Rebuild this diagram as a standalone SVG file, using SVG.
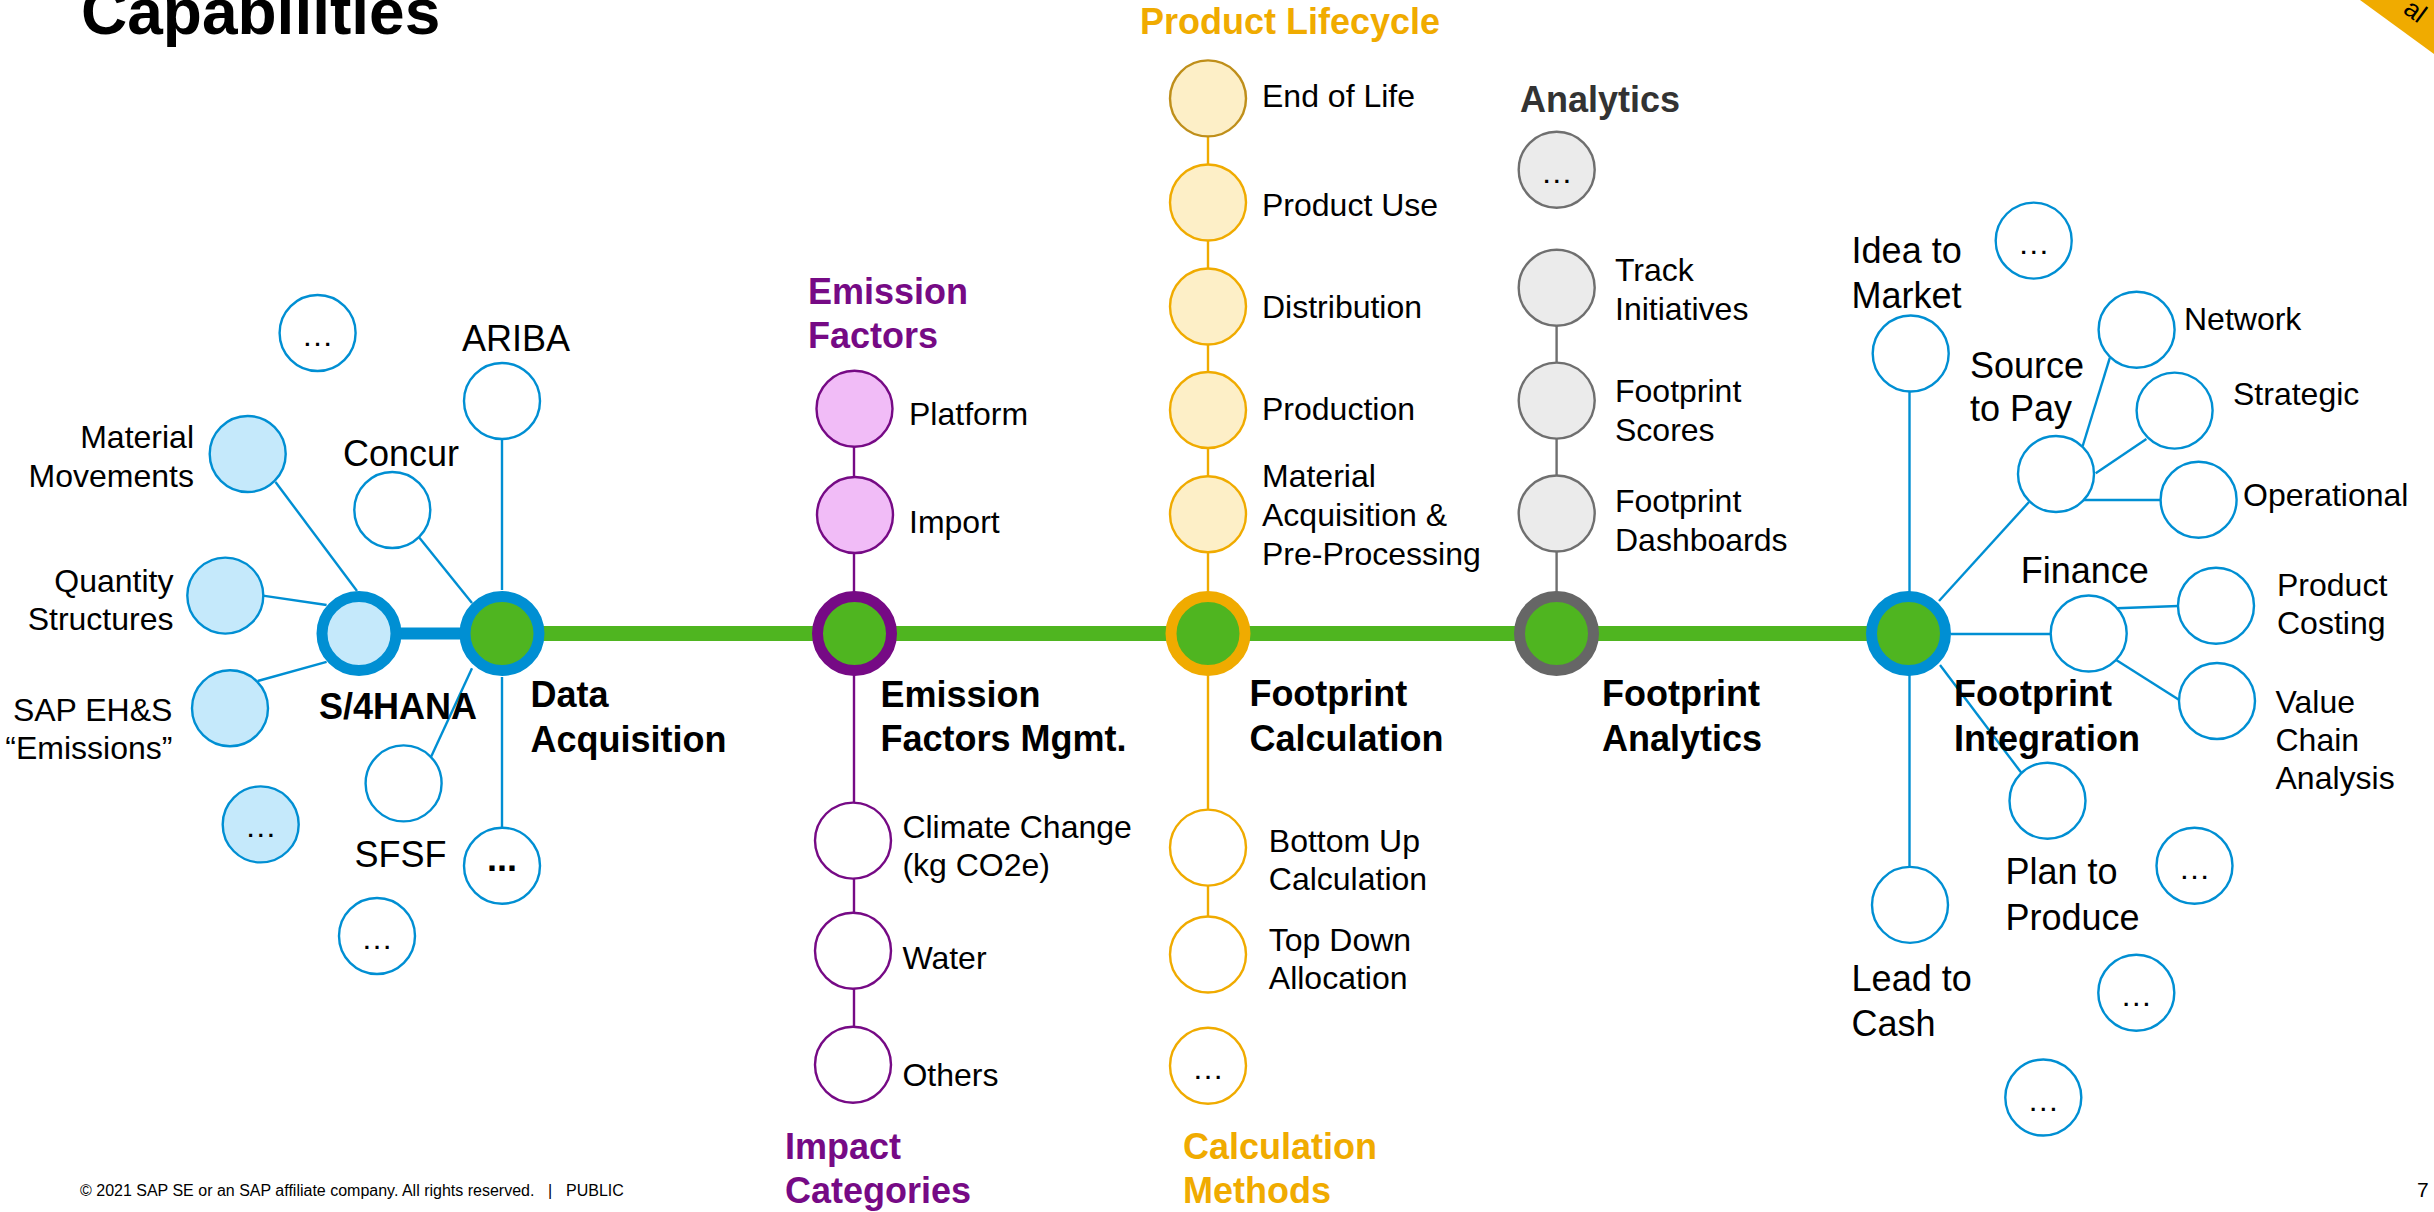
<svg xmlns="http://www.w3.org/2000/svg" width="2434" height="1212" viewBox="0 0 2434 1212">
<style>
text{font-family:"Liberation Sans",Arial,sans-serif;fill:#000}
.t36{font-size:36px}
.t32{font-size:32px}
.b36{font-size:36px;font-weight:bold}
.dots{font-size:32px;text-anchor:middle}
.r{text-anchor:end}
.pur{fill:#760A85}
.gold{fill:#F0AB00}
.dg{fill:#333333}
.cb{fill:#fff;stroke:#008FD3;stroke-width:2.4}
.cbl{fill:#C5E9FB;stroke:#008FD3;stroke-width:2.4}
.cp{fill:#fff;stroke:#760A85;stroke-width:2.4}
.cpl{fill:#F1BCF7;stroke:#760A85;stroke-width:2.4}
.cg{fill:#fff;stroke:#F0AB00;stroke-width:2.4}
.cgl{fill:#FDEFC7;stroke:#F0AB00;stroke-width:2.4}
.cgr{fill:#EBEBEB;stroke:#6F6F6F;stroke-width:2.4}
.ring{stroke-width:11}
.lb{stroke:#008FD3;stroke-width:2.4;fill:none}
.lp{stroke:#760A85;stroke-width:2.4;fill:none}
.lg{stroke:#F0AB00;stroke-width:2.4;fill:none}
.lgr{stroke:#6F6F6F;stroke-width:2.4;fill:none}
</style>
<rect width="2434" height="1212" fill="#fff"/>

<g id="title"><text x="81" y="34" style="font-size:64px;font-weight:bold">Capabilities</text></g>

<g id="banner">
<polygon points="2360,0 2434,0 2434,54" fill="#F0AB00"/>
<text transform="translate(2402,12) rotate(36)" style="font-size:26px">al</text>
</g>

<g id="connectors">
<line x1="502" y1="633.5" x2="1908.5" y2="633.5" stroke="#4FB520" stroke-width="15"/>
<line x1="359" y1="633.5" x2="502" y2="633.5" stroke="#008FD3" stroke-width="12"/>
<line class="lb" x1="275.5" y1="482" x2="357" y2="591"/>
<line class="lb" x1="262.8" y1="595.6" x2="326.6" y2="605"/>
<line class="lb" x1="257.7" y1="681" x2="326.6" y2="661.8"/>
<line class="lb" x1="502" y1="439" x2="502" y2="590"/>
<line class="lb" x1="419.4" y1="537.7" x2="472" y2="603"/>
<line class="lb" x1="431.1" y1="756.8" x2="472" y2="668.2"/>
<line class="lb" x1="502" y1="677" x2="502" y2="828"/>
<polyline class="lp" points="854,408.7 854,1064.7"/>
<polyline class="lg" points="1208,98.4 1208,954.5"/>
<polyline class="lgr" points="1556.6,287.7 1556.6,633.5"/>
<line class="lb" x1="1909.5" y1="353.5" x2="1909.5" y2="905"/>
<line class="lb" x1="2029" y1="502" x2="1939" y2="601"/>
<line class="lb" x1="2082.7" y1="446" x2="2109.8" y2="357.8"/>
<line class="lb" x1="2095.7" y1="473.3" x2="2146.4" y2="438.9"/>
<line class="lb" x1="2082.7" y1="500" x2="2160.5" y2="500"/>
<line class="lb" x1="1951" y1="634" x2="2050.7" y2="634"/>
<line class="lb" x1="2116.7" y1="608.3" x2="2178.3" y2="606"/>
<line class="lb" x1="2115" y1="659.3" x2="2179.3" y2="700"/>
<line class="lb" x1="1940" y1="665" x2="2021.7" y2="773.3"/>
</g>

<!-- Left cluster -->
<g id="n-dots-top"><circle class="cb" cx="317.6" cy="333" r="38"/><text class="dots" x="317.6" y="346">…</text></g>
<g id="n-ariba"><circle class="cb" cx="502" cy="401" r="38"/><text class="t36" x="462" y="351">ARIBA</text></g>
<g id="n-material-movements"><circle class="cbl" cx="247.7" cy="454" r="38"/><text class="t32 r" x="194" y="448">Material</text><text class="t32 r" x="194" y="487">Movements</text></g>
<g id="n-concur"><circle class="cb" cx="392.3" cy="510" r="38"/><text class="t36" x="343" y="466">Concur</text></g>
<g id="n-quantity-structures"><circle class="cbl" cx="225.3" cy="595.6" r="38"/><text class="t32 r" x="173.5" y="592">Quantity</text><text class="t32 r" x="173.5" y="630">Structures</text></g>
<g id="n-sap-ehs"><circle class="cbl" cx="230" cy="708.3" r="38"/><text class="t32 r" x="172.4" y="721">SAP EH&amp;S</text><text class="t32 r" x="172.4" y="759">“Emissions”</text></g>
<g id="n-dots-lightblue"><circle class="cbl" cx="260.7" cy="824.4" r="38"/><text class="dots" x="260.7" y="837">…</text></g>
<g id="n-sfsf"><circle class="cb" cx="403.6" cy="783.4" r="38"/><text class="t36" x="354.6" y="867">SFSF</text></g>
<g id="n-dots-bold"><circle class="cb" cx="502" cy="865.7" r="38"/><text x="502" y="871" style="font-size:36px;font-weight:bold;text-anchor:middle">...</text></g>
<g id="n-dots-below-sfsf"><circle class="cb" cx="377" cy="936" r="38"/><text class="dots" x="377" y="949">…</text></g>
<g id="n-s4hana"><circle cx="359" cy="633.5" r="37" fill="#C5E9FB" stroke="#008FD3" class="ring"/><text class="b36" x="319" y="719">S/4HANA</text></g>
<g id="n-data-acquisition"><circle cx="502" cy="633.5" r="37" fill="#4FB520" stroke="#008FD3" class="ring"/><text class="b36" x="530.6" y="707">Data</text><text class="b36" x="530.6" y="752">Acquisition</text></g>

<!-- Emission factors -->
<g id="n-emission-factors-head"><text class="b36 pur" x="808" y="304">Emission</text><text class="b36 pur" x="808" y="348">Factors</text></g>
<g id="n-platform"><circle class="cpl" cx="854.5" cy="408.7" r="38"/><text class="t32" x="909" y="425">Platform</text></g>
<g id="n-import"><circle class="cpl" cx="855" cy="515" r="38"/><text class="t32" x="909" y="533">Import</text></g>
<g id="n-emission-factors-mgmt"><circle cx="854.5" cy="633.5" r="37" fill="#4FB520" stroke="#760A85" class="ring"/><text class="b36" x="880.5" y="707">Emission</text><text class="b36" x="880.5" y="751">Factors Mgmt.</text></g>
<g id="n-climate-change"><circle class="cp" cx="853" cy="840.6" r="38"/><text class="t32" x="902.4" y="838">Climate Change</text><text class="t32" x="902.4" y="876">(kg CO2e)</text></g>
<g id="n-water"><circle class="cp" cx="853" cy="950.8" r="38"/><text class="t32" x="902.4" y="969">Water</text></g>
<g id="n-others"><circle class="cp" cx="853" cy="1064.7" r="38"/><text class="t32" x="902.4" y="1086">Others</text></g>
<g id="n-impact-categories"><text class="b36 pur" x="785" y="1159">Impact</text><text class="b36 pur" x="785" y="1203">Categories</text></g>

<!-- Footprint calculation -->
<g id="n-product-lifecycle"><text class="b36 gold" x="1140" y="34">Product Lifecycle</text></g>
<g id="n-end-of-life"><circle cx="1208" cy="98.4" r="38" fill="#FDEFC7" stroke="#BF8F1A" stroke-width="2.4"/><text class="t32" x="1262" y="107">End of Life</text></g>
<g id="n-product-use"><circle class="cgl" cx="1208" cy="202.5" r="38"/><text class="t32" x="1262" y="215.5">Product Use</text></g>
<g id="n-distribution"><circle class="cgl" cx="1208" cy="306.5" r="38"/><text class="t32" x="1262" y="318.4">Distribution</text></g>
<g id="n-production"><circle class="cgl" cx="1208" cy="410" r="38"/><text class="t32" x="1262" y="420.2">Production</text></g>
<g id="n-material-acquisition"><circle class="cgl" cx="1208" cy="514.2" r="38"/><text class="t32" x="1262" y="487">Material</text><text class="t32" x="1262" y="526">Acquisition &amp;</text><text class="t32" x="1262" y="565">Pre-Processing</text></g>
<g id="n-footprint-calculation"><circle cx="1208" cy="633.5" r="37" fill="#4FB520" stroke="#F0AB00" class="ring"/><text class="b36" x="1249.4" y="706">Footprint</text><text class="b36" x="1249.4" y="751">Calculation</text></g>
<g id="n-bottom-up"><circle class="cg" cx="1208" cy="847.6" r="38"/><text class="t32" x="1268.8" y="852">Bottom Up</text><text class="t32" x="1268.8" y="890.4">Calculation</text></g>
<g id="n-top-down"><circle class="cg" cx="1208" cy="954.5" r="38"/><text class="t32" x="1268.8" y="951">Top Down</text><text class="t32" x="1268.8" y="989">Allocation</text></g>
<g id="n-calc-dots"><circle class="cg" cx="1208" cy="1065.7" r="38"/><text class="dots" x="1208" y="1079">…</text></g>
<g id="n-calculation-methods"><text class="b36 gold" x="1183" y="1159">Calculation</text><text class="b36 gold" x="1183" y="1203">Methods</text></g>

<!-- Analytics -->
<g id="n-analytics-head"><text class="b36 dg" x="1520" y="111.7">Analytics</text></g>
<g id="n-analytics-dots"><circle class="cgr" cx="1556.7" cy="169.7" r="38"/><text class="dots" x="1556.7" y="183">…</text></g>
<g id="n-track-initiatives"><circle class="cgr" cx="1556.7" cy="287.7" r="38"/><text class="t32" x="1615" y="281">Track</text><text class="t32" x="1615" y="320">Initiatives</text></g>
<g id="n-footprint-scores"><circle class="cgr" cx="1556.7" cy="400.6" r="38"/><text class="t32" x="1615" y="402">Footprint</text><text class="t32" x="1615" y="441">Scores</text></g>
<g id="n-footprint-dashboards"><circle class="cgr" cx="1556.7" cy="513.5" r="38"/><text class="t32" x="1615" y="511.6">Footprint</text><text class="t32" x="1615" y="550.6">Dashboards</text></g>
<g id="n-footprint-analytics"><circle cx="1556.5" cy="633.5" r="37" fill="#4FB520" stroke="#666666" class="ring"/><text class="b36" x="1602" y="706">Footprint</text><text class="b36" x="1602" y="751">Analytics</text></g>

<!-- Footprint integration -->
<g id="n-idea-to-market"><circle class="cb" cx="1910.7" cy="353.5" r="38"/><text class="t36" x="1851.6" y="263">Idea to</text><text class="t36" x="1851.6" y="307.6">Market</text></g>
<g id="n-idea-dots"><circle class="cb" cx="2033.7" cy="240.6" r="38"/><text class="dots" x="2033.7" y="254">…</text></g>
<g id="n-source-to-pay"><circle class="cb" cx="2056" cy="474" r="38"/><text class="t36" x="1970" y="377.6">Source</text><text class="t36" x="1970" y="421">to Pay</text></g>
<g id="n-network"><circle class="cb" cx="2136.6" cy="329.8" r="38"/><text class="t32" x="2184" y="330">Network</text></g>
<g id="n-strategic"><circle class="cb" cx="2174.6" cy="410.6" r="38"/><text class="t32" x="2233" y="405">Strategic</text></g>
<g id="n-operational"><circle class="cb" cx="2198.6" cy="499.8" r="38"/><text class="t32" x="2243" y="506">Operational</text></g>
<g id="n-finance"><circle class="cb" cx="2088.7" cy="633.5" r="38"/><text class="t36" x="2020.7" y="583">Finance</text></g>
<g id="n-product-costing"><circle class="cb" cx="2216" cy="605.7" r="38"/><text class="t32" x="2277" y="596">Product</text><text class="t32" x="2277" y="634.4">Costing</text></g>
<g id="n-value-chain"><circle class="cb" cx="2217" cy="701" r="38"/><text class="t32" x="2275.5" y="713">Value</text><text class="t32" x="2275.5" y="751">Chain</text><text class="t32" x="2275.5" y="789">Analysis</text></g>
<g id="n-plan-to-produce"><circle class="cb" cx="2047.5" cy="800.7" r="38"/><text class="t36" x="2005.5" y="884">Plan to</text><text class="t36" x="2005.5" y="930">Produce</text></g>
<g id="n-plan-dots"><circle class="cb" cx="2194.5" cy="865.8" r="38"/><text class="dots" x="2194.5" y="879">…</text></g>
<g id="n-lead-to-cash"><circle class="cb" cx="1910" cy="904.9" r="38"/><text class="t36" x="1851.6" y="991">Lead to</text><text class="t36" x="1851.6" y="1035.5">Cash</text></g>
<g id="n-dots-r1"><circle class="cb" cx="2136.3" cy="992.7" r="38"/><text class="dots" x="2136.3" y="1006">…</text></g>
<g id="n-dots-r2"><circle class="cb" cx="2043.3" cy="1097.5" r="38"/><text class="dots" x="2043.3" y="1111">…</text></g>
<g id="n-footprint-integration"><circle cx="1908.5" cy="633.5" r="37" fill="#4FB520" stroke="#008FD3" class="ring"/><text class="b36" x="1954" y="706">Footprint</text><text class="b36" x="1954" y="751">Integration</text></g>

<g id="footer">
<text x="80" y="1196" style="font-size:16px">© 2021 SAP SE or an SAP affiliate company. All rights reserved.</text>
<text x="548" y="1196" style="font-size:16px">|</text>
<text x="566" y="1196" style="font-size:16px">PUBLIC</text>
<text x="2417" y="1197" style="font-size:21px">7</text>
</g>
</svg>
